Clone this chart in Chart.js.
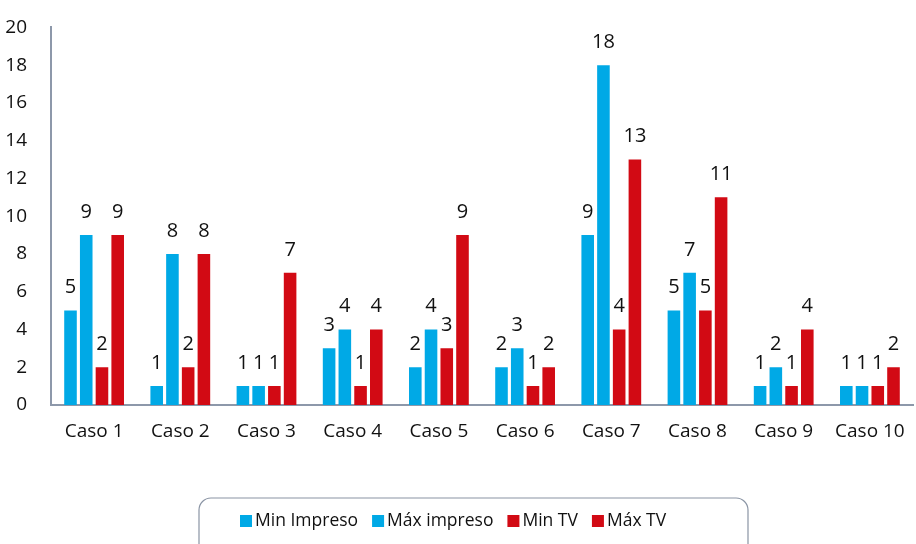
<!DOCTYPE html>
<html>
<head>
<meta charset="utf-8">
<script src="https://cdn.jsdelivr.net/npm/chart.js@4"></script>
<style>
  html, body { margin: 0; padding: 0; background: #fff; }
  #wrap { width: 916px; height: 544px; }
</style>
</head>
<body>
<div id="wrap"><canvas id="chart" width="916" height="544"></canvas></div>
<script>
const casos = ['Caso 1', 'Caso 2', 'Caso 3', 'Caso 4', 'Caso 5', 'Caso 6', 'Caso 7', 'Caso 8', 'Caso 9', 'Caso 10'];
const minImpreso = [5, 1, 1, 3, 2, 2, 9, 5, 1, 1];
const maxImpreso = [9, 8, 1, 4, 4, 3, 18, 7, 2, 1];
const minTV = [2, 2, 1, 1, 3, 1, 4, 5, 1, 1];
const maxTV = [9, 8, 7, 4, 9, 2, 13, 11, 4, 2];

const blue = '#00a9e6';
const red = '#d20a14';
const axisGray = '#8d98aa';
const font = "'Open Sans', 'Liberation Sans', sans-serif";

// numbers above each bar
const valueLabels = {
  id: 'valueLabels',
  afterDatasetsDraw(chart) {
    const ctx = chart.ctx;
    ctx.save();
    ctx.fillStyle = '#111';
    ctx.font = '20px ' + font;
    ctx.textAlign = 'center';
    ctx.textBaseline = 'middle';
    chart.data.datasets.forEach((ds, i) => {
      chart.getDatasetMeta(i).data.forEach((bar, j) => {
        ctx.fillText(ds.data[j], bar.x, bar.y - 23);
      });
    });
    ctx.restore();
  }
};

// legend in a rounded frame under the plot
const framedLegend = {
  id: 'framedLegend',
  afterDraw(chart) {
    const ctx = chart.ctx;
    ctx.save();
    ctx.strokeStyle = '#8a94a4';
    ctx.lineWidth = 1.2;
    ctx.beginPath();
    ctx.roundRect(199, 498, 549, 60, 12);
    ctx.stroke();

    ctx.font = '17.5px ' + font;
    ctx.textBaseline = 'middle';
    let x = 240;
    const y = 521;
    chart.data.datasets.forEach((ds) => {
      ctx.fillStyle = ds.backgroundColor;
      ctx.fillRect(x, y - 6, 12, 12);
      ctx.fillStyle = '#111';
      ctx.fillText(ds.label, x + 15, y);
      x += 15 + ctx.measureText(ds.label).width + 14;
    });
    ctx.restore();
  }
};

new Chart(document.getElementById('chart').getContext('2d'), {
  type: 'bar',
  data: {
    labels: casos,
    datasets: [
      { label: 'Min Impreso', data: minImpreso, backgroundColor: blue },
      { label: 'Máx impreso', data: maxImpreso, backgroundColor: blue },
      { label: 'Min TV', data: minTV, backgroundColor: red },
      { label: 'Máx TV', data: maxTV, backgroundColor: red },
    ],
  },
  options: {
    responsive: false,
    animation: false,
    layout: { padding: { top: 5, right: 3, bottom: 99, left: 4 } },
    datasets: {
      bar: { categoryPercentage: 0.73, barPercentage: 0.8 },
    },
    scales: {
      x: {
        grid: { display: false },
        border: { display: true, color: axisGray, width: 2 },
        ticks: { color: '#111', font: { family: font, size: 19 }, padding: 7 },
        afterFit: (scale) => { scale.height = 40; },
      },
      y: {
        min: 0,
        max: 20,
        grid: { display: false },
        border: { display: true, color: axisGray, width: 2 },
        ticks: { stepSize: 2, color: '#111', font: { family: font, size: 19 }, padding: 16 },
        afterFit: (scale) => { scale.width = 47; },
      },
    },
    plugins: {
      tooltip: { enabled: false },
      legend: { display: false },
    },
  },
  plugins: [valueLabels, framedLegend],
});
</script>
</body>
</html>
